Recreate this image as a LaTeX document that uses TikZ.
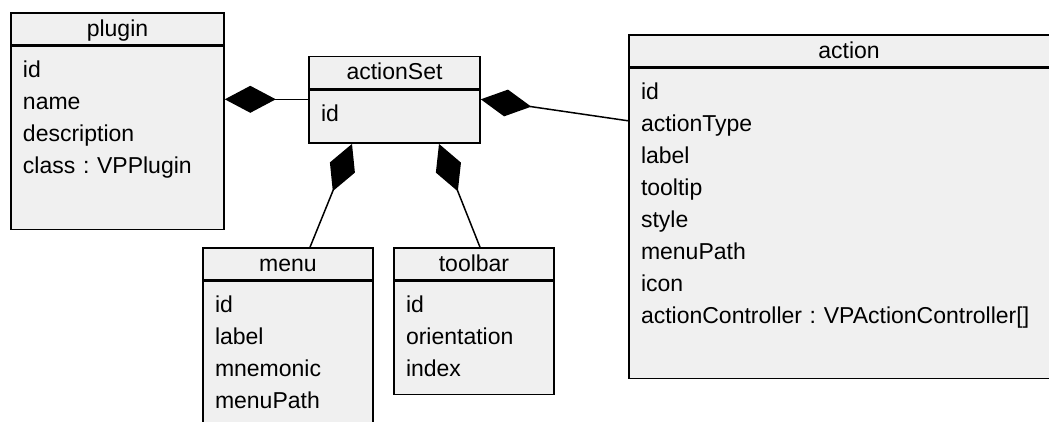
\documentclass[tikz,border=0pt]{standalone}
\usepackage{fontspec}
\setmainfont{Liberation Sans}
\usetikzlibrary{arrows.meta,positioning}
\definecolor{boxgray}{RGB}{240,240,240}

\begin{document}
\frenchspacing
\begin{tikzpicture}[x=1pt,y=-1pt,font=\fontsize{23}{32}\selectfont,
    head/.style={draw,line width=1.6pt,fill=boxgray,minimum height=32pt,inner ysep=0pt,text height=18pt,text depth=4pt},
    attr/.style={draw,line width=1.6pt,fill=boxgray,inner xsep=12pt,inner ysep=0pt,align=left,text height=31pt,below=0pt of #1},
    owns/.style={line width=1.5pt,-{Diamond[length=51pt,width=27pt]}}]
    \useasboundingbox (0,0) rectangle (1049,421);
    % classes
    \node[head,minimum width=213pt] (plugin) at (117.5,29) {plugin};
    \node[attr=plugin,text width=189pt,text depth=152pt] (pluginAttr) {id\\name\\description\\class : VPPlugin};
    \node[head,minimum width=171pt] (actionSet) at (394.5,72.5) {actionSet};
    \node[attr=actionSet,text width=147pt,text depth=22pt] (actionSetAttr) {id};
    \node[head,minimum width=440pt] (action) at (849,51) {action};
    \node[attr=action,text width=416pt,text depth=279pt] (actionAttr) {id\\actionType\\label\\tooltip\\style\\menuPath\\icon\\actionController : VPActionController[]};
    \node[head,minimum width=170pt] (menu) at (288,264) {menu};
    \node[attr=menu,text width=146pt,text depth=129pt] (menuAttr) {id\\label\\mnemonic\\menuPath};
    \node[head,minimum width=160pt] (toolbar) at (474,264) {toolbar};
    \node[attr=toolbar,text width=136pt,text depth=82pt] (toolbarAttr) {id\\orientation\\index};
    % compositions
    \coordinate (setW) at ([yshift=-10pt]actionSet.south west);
    \draw[owns] (setW) -- (setW -| pluginAttr.east);
    \draw[owns] ([yshift=-53pt]actionAttr.north west) -- (setW -| actionSetAttr.east);
    \draw[owns] ([xshift=22pt]menu.north) -- ([xshift=-42.5pt]actionSetAttr.south);
    \draw[owns] ([xshift=6pt]toolbar.north) -- ([xshift=44.5pt]actionSetAttr.south);
\end{tikzpicture}
\end{document}
